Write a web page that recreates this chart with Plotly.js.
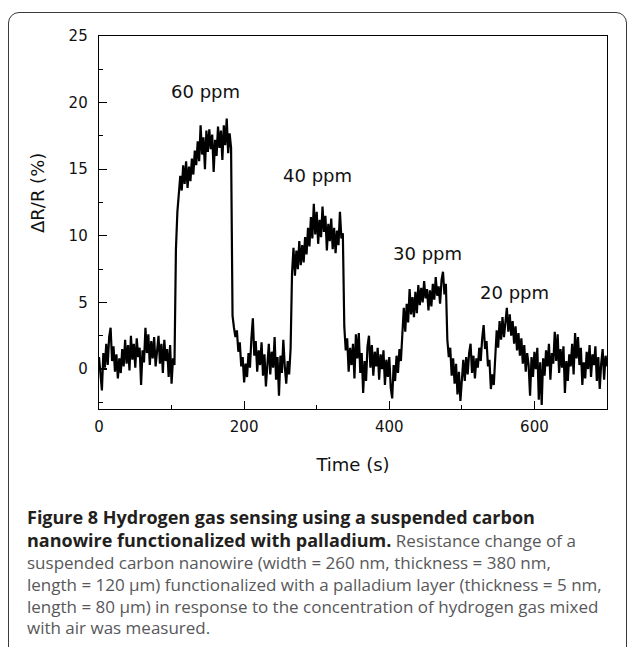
<!DOCTYPE html>
<html>
<head>
<meta charset="utf-8">
<script src="https://cdn.plot.ly/plotly-3.0.1.min.js"></script>
<style>
  html, body { margin: 0; padding: 0; background: #fff; }
  #wrap { position: relative; width: 629px; height: 647px; overflow: hidden; }
  #chart { position: absolute; left: 0; top: 0; width: 629px; height: 647px; }
  #frame { position: absolute; left: 8px; top: 12px; width: 617px; height: 660px;
           border: 1.6px solid #3a3a3a; border-radius: 11px; pointer-events: none; }
</style>
</head>
<body>
<div id="wrap">
  <div id="chart"></div>
  <div id="frame"></div>
</div>
<script>
// ---- data (ΔR/R in %, sampled every 2 s from t = 0 s) ----
const sampleStep = 2; // seconds between samples

const baselineStart = [0.9,-0.4,-1.6,1.2,0.1,1.9,0.3,2.4,3.1,0.6,1.7,-0.2,1.1,-0.7,0.8,-0.3,1.5,0.2,2.2,0.4,
  1.8,-0.1,2.5,0.7,1.9,0.1,2.3,0.9,1.6,-1.2,1.4,0.5,3.1,1.2,2.6,0.3,2.1,0.8,2.4,0.2,
  1.7,2.5,0.4,1.9,-0.3,2.2,0.6,1.5,-0.6,1.8,-1.1,0.8,0.3];           // t = 0 … 104
const pulse60ppm = [9.0,11.8,13.2,14.5,13.4,15.3,13.9,15.6,13.6,15.2,14.1,15.8,14.6,16.4,15.3,17.1,15.6,18.3,16.1,17.4,
  15.0,17.9,16.3,18.0,16.5,17.6,14.8,17.2,16.0,18.2,16.6,17.9,15.7,18.3,16.8,18.8,16.2,17.7,16.6]; // t = 106 … 182
const recovery1 = [4.0,3.1,2.4,2.9,1.3,2.0,0.2,0.9,-1.0,0.4,-0.6,1.2,0.1,2.3,3.8,1.0,2.1,-0.2,1.4,0.3,
  2.0,-0.5,1.1,-1.3,0.8,1.9,-0.4,1.3,0.1,2.4,-0.8,0.9,-2.0,1.0,-0.3,2.2,0.2,-1.1,0.6,-0.4,1.5]; // t = 184 … 264
const pulse40ppm = [7.2,9.1,7.0,8.9,7.5,9.6,7.8,9.3,8.0,9.9,8.6,10.6,9.2,11.4,9.8,12.4,10.1,11.8,9.4,11.2,
  9.9,12.2,10.3,11.5,8.9,10.9,9.6,11.3,9.0,10.6,8.7,10.4,9.3,11.8,9.8,10.2];              // t = 266 … 336
const recovery2 = [3.2,1.4,2.3,-0.2,1.6,0.3,1.9,-0.7,2.6,0.8,2.7,-0.3,1.2,-1.8,0.6,-0.9,1.7,2.5,0.1,1.8,
  -0.5,1.3,0.2,1.6,-0.8,1.1,0.0,1.4,-1.2,0.7,-0.6,0.9,-1.4,-2.2,0.3,-0.9,1.0,-0.3,1.5,0.6]; // t = 338 … 416
const pulse30ppm = [3.1,4.6,2.8,4.9,3.5,6.0,4.1,5.4,3.9,5.8,4.2,6.3,4.8,6.1,5.0,6.6,5.3,6.0,4.4,5.9,
  4.7,6.4,5.2,6.9,5.5,6.2,4.9,6.7,7.3,5.6,6.4];                                          // t = 418 … 478
const tailWith20ppm = [2.2,0.9,1.6,-0.5,0.8,-1.1,0.4,-1.9,-0.2,-2.4,-0.6,0.7,-0.9,0.9,-0.4,1.2,1.9,-0.3,1.0,-0.7,
  0.8,0.1,1.6,0.6,2.3,3.3,1.5,2.1,0.2,0.7,-1.5,-0.4,-1.2,1.4,2.9,1.6,3.6,2.2,3.9,2.4,
  3.7,4.6,2.8,4.1,2.5,3.6,1.9,3.2,1.4,2.7,1.0,2.3,0.4,1.8,-0.2,1.2,0.3,-2.0,0.9,-0.6,
  1.3,0.0,1.6,-2.3,0.5,-2.7,0.8,-0.5,1.4,0.2,1.9,-0.8,1.2,0.4,2.8,0.6,2.6,-0.3,1.5,0.1,
  1.7,-1.8,0.6,-0.9,1.1,0.2,1.9,-0.4,2.7,0.8,2.4,0.3,1.6,-1.2,0.5,-0.7,1.3,0.0,1.8,-0.6,
  1.1,0.3,1.7,-0.9,0.9,-1.5,0.4,1.5,-0.8,1.0,0.2];                                        // t = 480 … 700

const concLabels = ["60 ppm", "40 ppm", "30 ppm", "20 ppm"];
const concLabelX = [147, 301, 452, 572];
const concLabelY = [20.8, 14.5, 8.65, 5.75];

const xTickVals = [0, 200, 400, 600];
const yTickVals = [0, 5, 10, 15, 20, 25];

// ---- build trace ----
const response = [].concat(baselineStart, pulse60ppm, recovery1, pulse40ppm, recovery2, pulse30ppm, tailWith20ppm);
const time = response.map((_, i) => i * sampleStep);

// plot area in pixels (for placing caption text)
const W = 629, H = 647, L = 99, R = 22, T = 36, B = 238;
const pw = W - L - R, ph = H - T - B;
const px = x => (x - L) / pw;
const py = y => (H - B - y) / ph;

const tickFont = {family: "DejaVu Sans", size: 15, color: "#111"};
const capFont = {family: "Open Sans", size: 17, color: "#58585a"};
const B1 = "<b style='color:#231f20;font-size:18px'>";

const captionLines = [
  B1 + "Figure 8 Hydrogen gas sensing using a suspended carbon</b>",
  B1 + "nanowire functionalized with palladium.</b> Resistance change of a",
  "suspended carbon nanowire (width = 260 nm, thickness = 380 nm,",
  "length = 120 μm) functionalized with a palladium layer (thickness = 5 nm,",
  "length = 80 μm) in response to the concentration of hydrogen gas mixed",
  "with air was measured."
];
const captionY = [517, 540, 562, 584, 606, 627];

const annotations = concLabels.map((t, i) => ({
  text: t, x: concLabelX[i], y: concLabelY[i], xref: "x", yref: "y",
  showarrow: false, font: {family: "DejaVu Sans", size: 18, color: "#111"}
}));
captionLines.forEach((t, i) => annotations.push({
  text: t, xref: "paper", yref: "paper", x: px(25), y: py(captionY[i]),
  xanchor: "left", yanchor: "middle", showarrow: false, align: "left", font: capFont
}));
// y-axis title (placed as in the original figure, above the axis centre)
annotations.push({
  text: "ΔR/R (%)", xref: "paper", yref: "paper", x: px(38), y: py(193),
  xanchor: "center", yanchor: "middle", textangle: -90, showarrow: false,
  font: {family: "DejaVu Sans", size: 18, color: "#111"}
});

const trace = {
  x: time, y: response, type: "scatter", mode: "lines",
  line: {color: "#000", width: 2.2}, hoverinfo: "skip"
};

const layout = {
  width: W, height: H,
  margin: {l: L, r: R, t: T, b: B, pad: 0},
  paper_bgcolor: "#fff", plot_bgcolor: "#fff",
  showlegend: false,
  xaxis: {
    range: [0, 700], tickvals: xTickVals, ticks: "inside", ticklen: 8, tickwidth: 1.1, tickcolor: "#000",
    minor: {dtick: 100, tick0: 0, ticks: "inside", ticklen: 4, tickwidth: 1.1, tickcolor: "#000"},
    showline: true, linecolor: "#000", linewidth: 1.3, mirror: true,
    showgrid: false, zeroline: false, tickfont: tickFont, ticklabelstandoff: 4,
    title: {text: "Time (s)", font: {family: "DejaVu Sans", size: 18, color: "#111"}, standoff: 23}
  },
  yaxis: {
    range: [-3, 25], tickvals: yTickVals, ticks: "inside", ticklen: 8, tickwidth: 1.1, tickcolor: "#000",
    minor: {dtick: 2.5, tick0: 0, ticks: "inside", ticklen: 4, tickwidth: 1.1, tickcolor: "#000"},
    showline: true, linecolor: "#000", linewidth: 1.3, mirror: true,
    showgrid: false, zeroline: false, tickfont: tickFont, ticklabelstandoff: 7
  },
  annotations: annotations
};

Plotly.newPlot("chart", [trace], layout, {staticPlot: true, displayModeBar: false});
</script>
</body>
</html>
